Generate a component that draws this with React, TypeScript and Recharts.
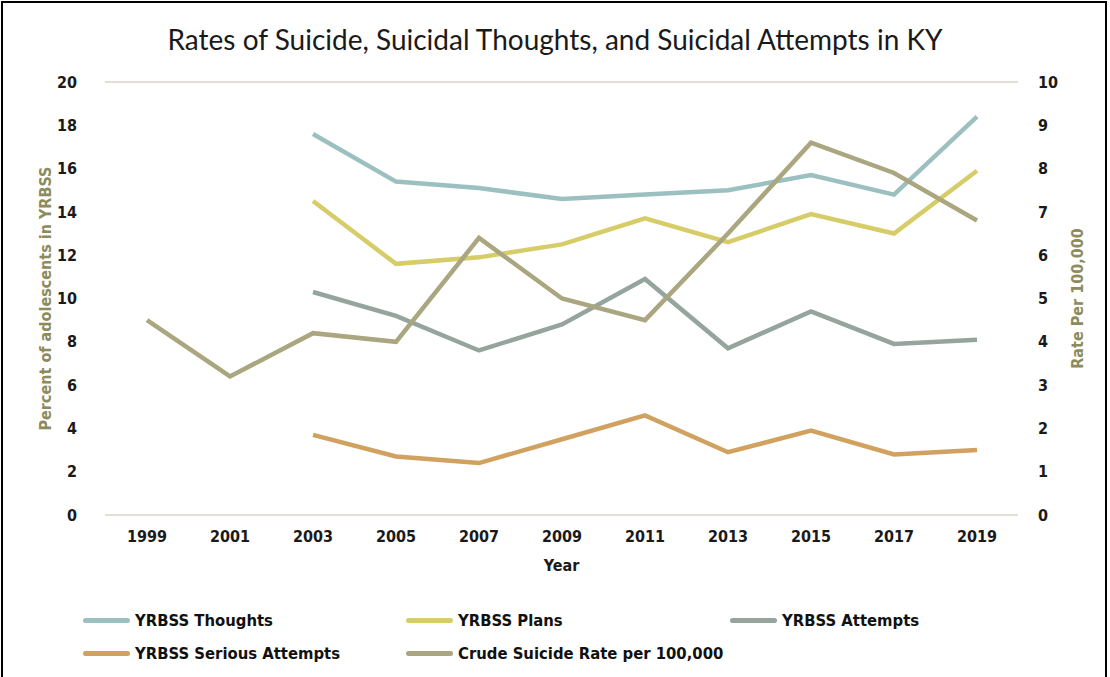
import React from "react";
import { LineChart, Line, XAxis, YAxis, CartesianGrid, Label } from "recharts";

const years = ["1999", "2001", "2003", "2005", "2007", "2009", "2011", "2013", "2015", "2017", "2019"];

// YRBSS percentages (no survey data for 1999, 2001)
const thoughts = [null, null, 17.6, 15.4, 15.1, 14.6, 14.8, 15.0, 15.7, 14.8, 18.4];
const plans = [null, null, 14.5, 11.6, 11.9, 12.5, 13.7, 12.6, 13.9, 13.0, 15.9];
const attempts = [null, null, 10.3, 9.2, 7.6, 8.8, 10.9, 7.7, 9.4, 7.9, 8.1];
const seriousAttempts = [null, null, 3.7, 2.7, 2.4, 3.5, 4.6, 2.9, 3.9, 2.8, 3.0];
// crude rate per 100,000 (right axis)
const crudeRate = [4.5, 3.2, 4.2, 4.0, 6.4, 5.0, 4.5, 6.5, 8.6, 7.9, 6.8];

const leftTicks = [0, 2, 4, 6, 8, 10, 12, 14, 16, 18, 20];
const rightTicks = [0, 1, 2, 3, 4, 5, 6, 7, 8, 9, 10];

const data = years.map((y, i) => ({
  year: y,
  thoughts: thoughts[i],
  plans: plans[i],
  attempts: attempts[i],
  serious: seriousAttempts[i],
  crude: crudeRate[i],
}));

const series = [
  { key: "thoughts", name: "YRBSS Thoughts", color: "#9cc0c0", axis: "left" },
  { key: "plans", name: "YRBSS Plans", color: "#d6cd68", axis: "left" },
  { key: "attempts", name: "YRBSS Attempts", color: "#95a59e", axis: "left" },
  { key: "serious", name: "YRBSS Serious Attempts", color: "#d1a15f", axis: "left" },
  { key: "crude", name: "Crude Suicide Rate per 100,000", color: "#aaa67f", axis: "right" },
];

const FONT = "'DejaVu Sans Condensed', 'DejaVu Sans', sans-serif";
const tickStyle = { fontFamily: FONT, fontWeight: 700, fontSize: 16, fill: "#1a1a1a" };
const axisTitleStyle = { fontFamily: FONT, fontWeight: 700, fontSize: 16, fill: "#8d8b5c", textAnchor: "middle" as const };

// legend slots: [line left, row center y]
const legendPos = [
  [83, 620],
  [406, 620],
  [730, 620],
  [83, 653],
  [406, 653],
];

export default function App() {
  return (
    <div style={{ position: "absolute", left: 0, top: 0, width: 1110, height: 677, background: "#fff", overflow: "hidden" }}>
      <style>{`body{margin:0}`}</style>
      <div
        style={{
          position: "absolute",
          left: 1,
          top: 1,
          width: 1106,
          height: 680,
          border: "2px solid #000",
          boxSizing: "border-box",
        }}
      />
      <div
        style={{
          position: "absolute",
          top: 22,
          width: 1110,
          textAlign: "center",
          fontFamily: "Lato, sans-serif",
          fontWeight: 400,
          fontSize: 28,
          color: "#1a1a1a",
        }}
      >
        Rates of Suicide, Suicidal Thoughts, and Suicidal Attempts in KY
      </div>
      <LineChart width={1110} height={677} data={data} margin={{ top: 82, right: 32, bottom: 102, left: 60 }}>
        <CartesianGrid vertical={false} stroke="#e2ded6" strokeWidth={2} />
        <XAxis
          dataKey="year"
          axisLine={false}
          tickLine={false}
          tick={tickStyle}
          tickMargin={10}
          height={60}
          padding={{ left: 42, right: 41 }}
        >
          <Label value="Year" position="insideBottom" offset={4} style={{ ...tickStyle, fontSize: 16 }} />
        </XAxis>
        <YAxis
          yAxisId="left"
          domain={[0, 20]}
          ticks={leftTicks}
          interval={0}
          axisLine={false}
          tickLine={false}
          tick={tickStyle}
          tickMargin={22}
          width={45}
        >
          <Label
            value="Percent of adolescents in YRBSS"
            angle={-90}
            position="insideLeft"
            offset={-15}
            style={axisTitleStyle}
          />
        </YAxis>
        <YAxis
          yAxisId="right"
          orientation="right"
          domain={[0, 10]}
          ticks={rightTicks}
          interval={0}
          axisLine={false}
          tickLine={false}
          tick={tickStyle}
          tickMargin={14}
          width={60}
        >
          <Label
            value="Rate Per 100,000"
            angle={-90}
            position="insideRight"
            offset={1}
            style={axisTitleStyle}
          />
        </YAxis>
        {series.map((s) => (
          <Line
            key={s.key}
            yAxisId={s.axis}
            type="linear"
            dataKey={s.key}
            name={s.name}
            stroke={s.color}
            strokeWidth={4.5}
            dot={false}
            activeDot={false}
            isAnimationActive={false}
          />
        ))}
      </LineChart>
      {series.map((s, i) => (
        <div
          key={s.key}
          style={{
            position: "absolute",
            left: legendPos[i][0],
            top: legendPos[i][1] - 12,
            height: 24,
            display: "flex",
            alignItems: "center",
            fontFamily: FONT,
            fontWeight: 700,
            fontSize: 16.5,
            color: "#111",
            whiteSpace: "nowrap",
          }}
        >
          <span style={{ display: "inline-block", width: 47, height: 5, borderRadius: 3, background: s.color, marginRight: 5 }} />
          {s.name}
        </div>
      ))}
    </div>
  );
}
